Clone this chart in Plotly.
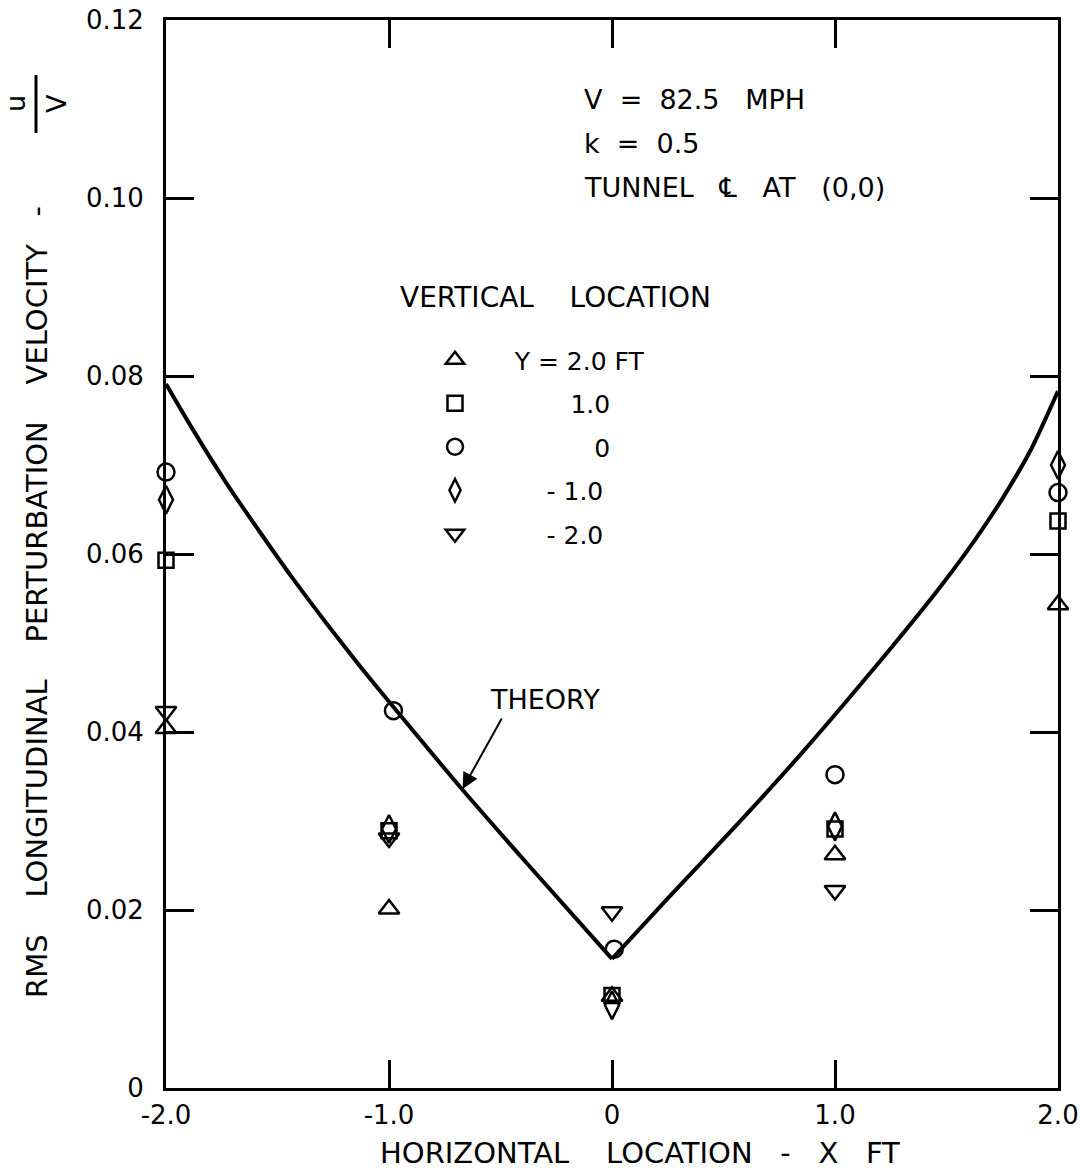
import plotly.graph_objects as go

# ---- data ----
x_pos = [-2.0, -1.0, 0.0, 1.0, 2.0]
x_circle = [-2.0, -0.98, 0.01, 1.0, 2.0]
y_p20 = [0.0404, 0.0201, 0.0103, 0.0262, 0.0543]   # Y = 2.0 FT
y_p10 = [0.0593, 0.0289, 0.0104, 0.0291, 0.0637]   # Y = 1.0
y_00 = [0.0692, 0.0424, 0.0156, 0.0352, 0.0669]    # Y = 0
y_m10 = [0.0661, 0.0291, 0.0093, 0.0294, 0.0700]   # Y = -1.0
y_m20 = [0.0423, 0.0281, 0.0198, 0.0222, None]     # Y = -2.0

theory_left_x = [-2.0, -1.88, -1.73, -1.58, -1.43, -1.28, -1.13, -0.98, -0.68, -0.38, 0.0]
theory_left_y = [0.0791, 0.0740, 0.0680, 0.0625, 0.0572, 0.0522, 0.0474, 0.0428, 0.0338, 0.0252, 0.0145]
theory_right_x = [0.0, 0.25, 0.55, 0.85, 1.15, 1.45, 1.60, 1.75, 1.88, 2.0]
theory_right_y = [0.0145, 0.0213, 0.0293, 0.0376, 0.0464, 0.0556, 0.0606, 0.0662, 0.0718, 0.0783]

x_ticks = [-2.0, -1.0, 0.0, 1.0, 2.0]
x_ticklabels = ["-2.0", "-1.0", "0", "1.0", "2.0"]
y_ticks = [0, 0.02, 0.04, 0.06, 0.08, 0.10, 0.12]
y_ticklabels = ["0", "0.02", "0.04", "0.06", "0.08", "0.10", "0.12"]

FS = "\u2007"   # figure space
NB = "\u00a0"
LEAD = NB * 5
names = [
    LEAD + "Y = 2.0 FT",
    LEAD + FS * 3 + NB + "1.0",
    LEAD + FS * 4 + NB * 2 + "0",
    LEAD + FS * 2 + "-" + NB + "1.0",
    LEAD + FS * 2 + "-" + NB + "2.0",
]

FONT = "DejaVu Sans"
W, H = 1080, 1175
ML, MR, MT, MB = 166, 22, 20, 87
PW, PH = W - ML - MR, H - MT - MB


def px(x):
    return (x - ML) / PW


def py(y):
    return 1 - (y - MT) / PH


def gap(n):
    return NB * n


fig = go.Figure()

for tx, ty in [(theory_left_x, theory_left_y), (theory_right_x, theory_right_y)]:
    fig.add_trace(go.Scatter(x=tx, y=ty, mode="lines",
                             line=dict(color="black", width=4, shape="spline", smoothing=0.7),
                             showlegend=False, cliponaxis=False))

series = [
    (x_pos, y_p20, "triangle-up-open", 18),
    (x_pos, y_p10, "square-open", 15),
    (x_circle, y_00, "circle-open", 17),
    (x_pos, y_m10, "diamond-tall-open", 20),
    (x_pos, y_m20, "triangle-down-open", 18),
]
for i, (xs, ys, sym, sz) in enumerate(series):
    fig.add_trace(go.Scatter(
        x=xs, y=ys, mode="markers", name=names[i], legendgroup=f"g{i}",
        marker=dict(symbol=sym, size=sz, color="black",
                    line=dict(color="black", width=2.5)),
        cliponaxis=False))

ann = []
txt = dict(family=FONT, size=27, color="black")
ann.append(dict(xref="paper", yref="paper", x=px(582), y=py(100),
                text="V" + gap(2) + "=" + gap(2) + "82.5" + gap(3) + "MPH",
                showarrow=False, xanchor="left", yanchor="middle", font=txt))
ann.append(dict(xref="paper", yref="paper", x=px(582), y=py(143),
                text="k" + gap(2) + "=" + gap(2) + "0.5",
                showarrow=False, xanchor="left", yanchor="middle", font=txt))
ann.append(dict(xref="paper", yref="paper", x=px(582), y=py(188),
                text="TUNNEL" + gap(3) + "\u2104" + gap(3) + "AT" + gap(3) + "(0,0)",
                showarrow=False, xanchor="left", yanchor="middle", font=txt))
ann.append(dict(xref="paper", yref="paper", x=px(555), y=py(297),
                text="VERTICAL" + gap(4) + "LOCATION",
                showarrow=False, xanchor="center", yanchor="middle",
                font=dict(family=FONT, size=28, color="black")))
ann.append(dict(xref="x", yref="y", x=-0.30, y=0.0436, text="THEORY",
                showarrow=False, xanchor="center", yanchor="middle", font=txt))
ann.append(dict(xref="x", yref="y", x=-0.67, y=0.0336, text="", showarrow=True,
                ax=40, ay=-72, arrowhead=2, arrowsize=1.6, arrowwidth=2,
                arrowcolor="black"))
ann.append(dict(xref="paper", yref="paper", x=px(640), y=py(1153),
                text="HORIZONTAL" + gap(4) + "LOCATION" + gap(3) + "-" + gap(3) + "X" + gap(3) + "FT",
                showarrow=False, xanchor="center", yanchor="middle",
                font=dict(family=FONT, size=29, color="black")))
ann.append(dict(xref="paper", yref="paper", x=px(37), y=py(602),
                text="RMS" + gap(4) + "LONGITUDINAL" + gap(4) + "PERTURBATION" + gap(4)
                     + "VELOCITY" + gap(3) + "-",
                textangle=-90, showarrow=False, xanchor="center", yanchor="middle",
                font=dict(family=FONT, size=29, color="black")))
ann.append(dict(xref="paper", yref="paper", x=px(16), y=py(104), text="u",
                textangle=-90, showarrow=False, xanchor="center", yanchor="middle",
                font=dict(family=FONT, size=27, color="black")))
ann.append(dict(xref="paper", yref="paper", x=px(57), y=py(104), text="V",
                textangle=-90, showarrow=False, xanchor="center", yanchor="middle",
                font=dict(family=FONT, size=27, color="black")))

fig.add_shape(type="line", xref="paper", yref="paper", x0=px(36), x1=px(36),
              y0=py(75), y1=py(133), line=dict(color="black", width=3))

axis_common = dict(showline=True, linecolor="black", linewidth=3, mirror="ticks",
                   ticks="inside", ticklen=28, tickwidth=2.5, tickcolor="black",
                   showgrid=False, zeroline=False, automargin=False,
                   tickfont=dict(family=FONT, size=26, color="black"))

fig.update_layout(
    width=W, height=H,
    margin=dict(l=ML, r=MR, t=MT, b=MB, autoexpand=False),
    paper_bgcolor="white", plot_bgcolor="white",
    xaxis=dict(range=[-2, 2], tickvals=x_ticks, ticktext=x_ticklabels,
               ticklabelstandoff=2, **axis_common),
    yaxis=dict(range=[0, 0.12], tickvals=y_ticks, ticktext=y_ticklabels,
               ticklabelstandoff=14, **axis_common),
    legend=dict(x=px(435), y=py(337), xanchor="left", yanchor="top",
                font=dict(family=FONT, size=25, color="black"),
                bgcolor="rgba(0,0,0,0)", borderwidth=0, tracegroupgap=8),
    annotations=ann,
    showlegend=True,
)

fig.write_html("out.html")
